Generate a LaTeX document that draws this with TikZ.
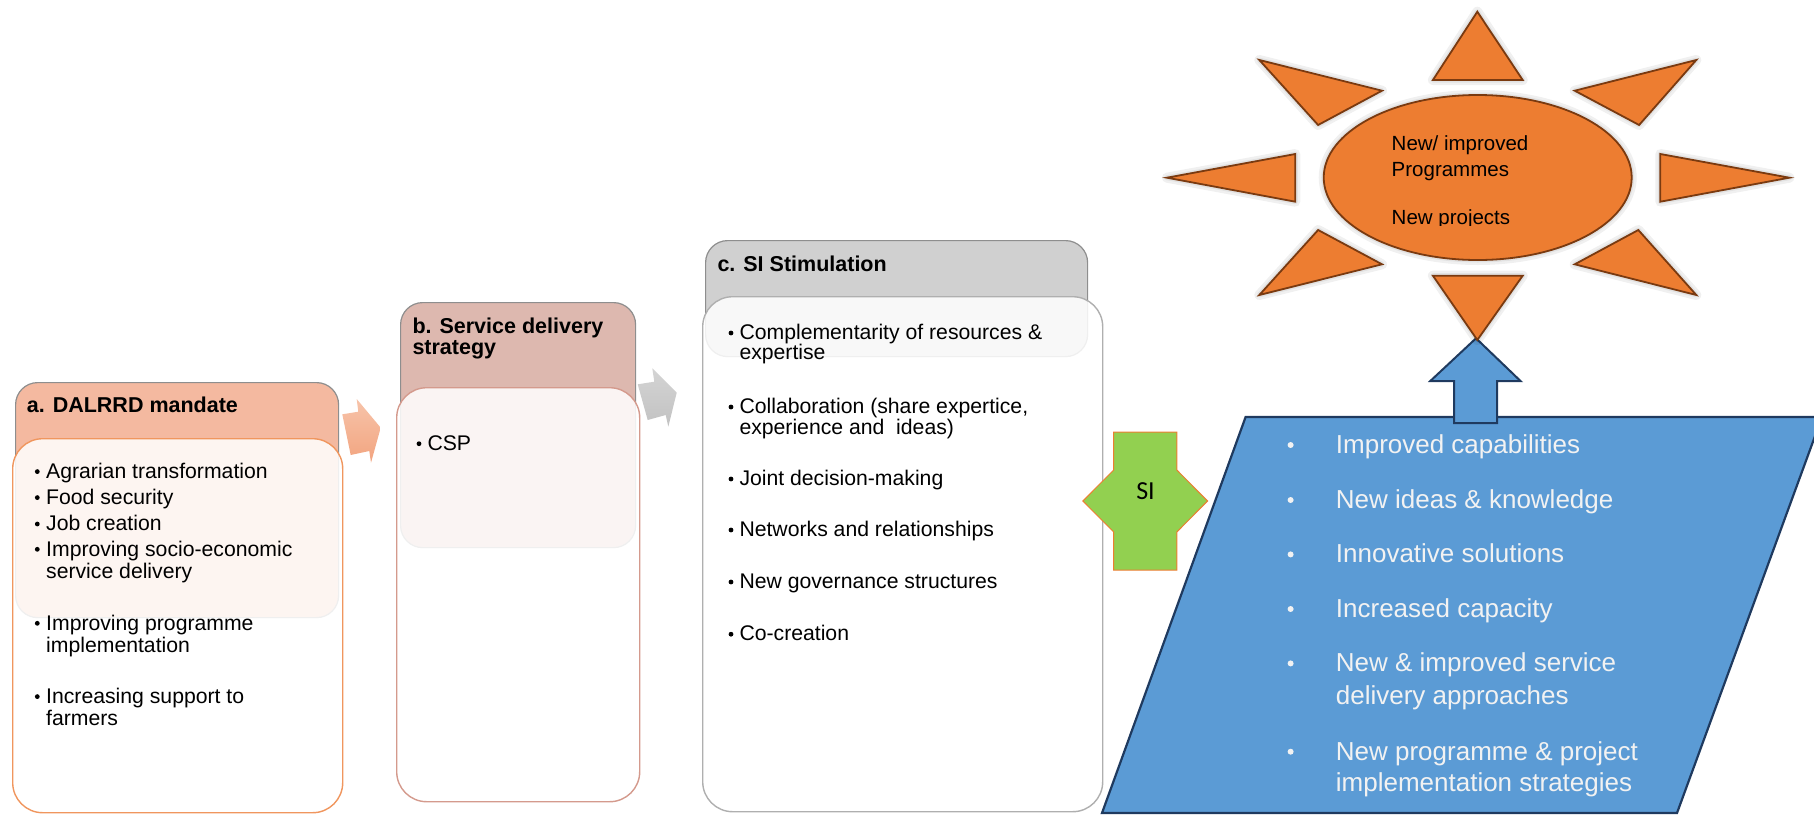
\documentclass[tikz,border=0pt]{standalone}
\usepackage{fontspec}
\setmainfont{Liberation Sans}
\newfontfamily\calibri{Carlito}
\usetikzlibrary{shapes.geometric}

\definecolor{hdrA}{HTML}{F4B9A0}
\definecolor{lineA}{HTML}{F0965E}
\definecolor{hdrB}{HTML}{DDB8AF}
\definecolor{lineB}{HTML}{D49A8D}
\definecolor{hdrC}{HTML}{D0D0D0}
\definecolor{lineC}{HTML}{AFAFAF}
\definecolor{hdrline}{HTML}{8E8E8E}
\definecolor{arrAtop}{HTML}{F7C4AA}
\definecolor{arrAbot}{HTML}{F2A47F}
\definecolor{arrBtop}{HTML}{D4D4D4}
\definecolor{arrBbot}{HTML}{C2C2C2}
\definecolor{sunfill}{HTML}{ED7D31}
\definecolor{sunline}{HTML}{7A3A10}
\definecolor{bluefill}{HTML}{5B9BD5}
\definecolor{blueline}{HTML}{1F3A5F}
\definecolor{sifill}{HTML}{92D050}
\definecolor{siline}{HTML}{ED7D31}
\definecolor{paletext}{HTML}{F2F2F2}

% bullet dot: x, y, radius
\newcommand\bul[3]{\fill (#1,#2) circle[radius=#3];}
% one sun ray: soft halo, then the filled triangle
\newcommand\sunray[3]{%
  \draw[halo, line width=10pt] #1 -- #2 -- #3 -- cycle;
  \draw[halo, line width=5pt] #1 -- #2 -- #3 -- cycle;
  \filldraw[ray] #1 -- #2 -- #3 -- cycle;}

\begin{document}
\begin{tikzpicture}[x=1pt,y=-1pt,
  hdrbox/.style={draw=hdrline, line width=1.2pt, rounded corners=22pt, inner sep=0pt, anchor=north west},
  bodybox/.style={fill=white, fill opacity=0.86, line width=1.4pt, rounded corners=30pt, inner sep=0pt, anchor=north west},
  hdrtxt/.style={anchor=base west, inner sep=0pt, font=\fontsize{21.5}{22}\selectfont\bfseries},
  txt/.style={anchor=base west, inner sep=0pt, font=\fontsize{21.2}{22}\selectfont},
  bigtxt/.style={anchor=base west, inner sep=0pt, text=paletext, font=\fontsize{26}{27}\selectfont},
  suntxt/.style={anchor=base west, inner sep=0pt, font=\fontsize{20.5}{21}\selectfont},
  ray/.style={fill=sunfill, draw=sunline, line width=1.8pt, line join=miter},
  halo/.style={draw=black, draw opacity=0.06, line join=round},
  bluebody/.style={fill=bluefill, draw=blueline, line width=2.2pt, line join=miter}
]
\useasboundingbox (0,0) rectangle (1814,814);

% ---------- a. mandate ----------
\node[hdrbox, fill=hdrA, minimum width=323pt, minimum height=235pt] (ha) at (15,382) {};
\node[bodybox, draw=lineA, minimum width=330pt, minimum height=374pt] (ba) at (12,438) {};
\node[hdrtxt] (ta) at (26.7,412.3) {a. DALRRD mandate};
\bul{37.3}{471.6}{2.4}
\node[txt] (a1) at (46,478.3) {Agrarian transformation};
\bul{37.3}{497.6}{2.4}
\node[txt] (a2) at (46,504.3) {Food security};
\bul{37.3}{524}{2.4}
\node[txt] (a3) at (46,530.7) {Job creation};
\bul{37.3}{549.3}{2.4}
\node[txt] (a4) at (46,556) {Improving socio-economic};
\node[txt] (a4b) at (46,578.3) {service delivery};
\bul{37.3}{623.3}{2.4}
\node[txt] (a5) at (46,630) {Improving programme};
\node[txt] (a5b) at (46,652.7) {implementation};
\bul{37.3}{696.6}{2.4}
\node[txt] (a6) at (46,703.3) {Increasing support to};
\node[txt] (a6b) at (46,725) {farmers};

% ---------- b. strategy ----------
\node[hdrbox, fill=hdrB, minimum width=235pt, minimum height=245pt] (hb) at (400,302) {};
\node[bodybox, draw=lineB, minimum width=243pt, minimum height=414pt] (bb) at (396,387) {};
\node[hdrtxt] (tb) at (412.3,333.4) {b. Service delivery};
\node[hdrtxt] (tb2) at (412.3,354.5) {strategy};
\bul{419}{443.7}{2.4}
\node[txt] (b1) at (427.3,450.4) {CSP};

% ---------- c. stimulation ----------
\node[hdrbox, fill=hdrC, minimum width=382pt, minimum height=116pt] (hc) at (705,240) {};
\node[bodybox, draw=lineC, minimum width=400pt, minimum height=515pt] (bc) at (702,296) {};
\node[hdrtxt] (tc) at (717.3,271.1) {c. SI Stimulation};
\bul{731}{333}{2.4}
\node[txt] (c1) at (739.3,339.3) {Complementarity of resources \&};
\node[txt] (c1b) at (739.3,359.4) {expertise};
\bul{731}{407}{2.4}
\node[txt] (c2) at (739.3,413.2) {Collaboration (share expertice,};
\node[txt] (c2b) at (739.3,434) {experience and \ ideas)};
\bul{731}{479}{2.4}
\node[txt] (c3) at (739.3,485.2) {Joint decision-making};
\bul{731}{530}{2.4}
\node[txt] (c4) at (739.3,536.3) {Networks and relationships};
\bul{731}{582}{2.4}
\node[txt] (c5) at (739.3,588.2) {New governance structures};
\bul{731}{634.2}{2.4}
\node[txt] (c6) at (739.3,640.5) {Co-creation};

% ---------- block arrows between the stages ----------
\shade[top color=arrAtop, bottom color=arrAbot]
  (342.3,414.3) -- (358.3,411.7) -- (356.7,399) -- (380.7,427.7)
  -- (371,462.7) -- (369.3,451) -- (350.7,455) -- cycle;
\shade[top color=arrBtop, bottom color=arrBbot]
  (637.7,384.3) -- (654.3,381.7) -- (652.3,368.3) -- (676.7,392.7)
  -- (668.3,426.7) -- (665.7,415) -- (647.7,420) -- cycle;

% ---------- SI connector ----------
\filldraw[fill=sifill, draw=siline, line width=1pt]
  (1113.7,432) -- (1176.8,432) -- (1176.8,470) -- (1207.6,501) -- (1176.8,532)
  -- (1176.8,570) -- (1113.7,570) -- (1113.7,532) -- (1082.8,501) -- (1113.7,470) -- cycle;
\node[anchor=base, inner sep=0pt, font=\calibri\fontsize{26}{27}\selectfont] (si) at (1145.5,499.3) {SI};

% ---------- outcomes ----------
\filldraw[bluebody] (1245.6,417) -- (1822,417) -- (1677,813) -- (1102,813) -- cycle;
\begin{scope}[color=paletext]
\bul{1290.6}{445}{3}
\bul{1290.6}{500}{3}
\bul{1290.6}{554.4}{3}
\bul{1290.6}{609}{3}
\bul{1290.6}{663.4}{3}
\bul{1290.6}{751.7}{3}
\end{scope}
\node[bigtxt] (o1) at (1335.7,453.3) {Improved capabilities};
\node[bigtxt] (o2) at (1335.7,508.3) {New ideas \& knowledge};
\node[bigtxt] (o3) at (1335.7,562.7) {Innovative solutions};
\node[bigtxt] (o4) at (1335.7,617.3) {Increased capacity};
\node[bigtxt] (o5) at (1335.7,671.7) {New \& improved service};
\node[bigtxt] (o5b) at (1335.7,704) {delivery approaches};
\node[bigtxt] (o6) at (1335.7,760) {New programme \& project};
\node[bigtxt] (o6b) at (1335.7,791.7) {implementation strategies};

% ---------- upward arrow ----------
\filldraw[bluebody, line width=2pt]
  (1454,423) -- (1454,381) -- (1430.3,381) -- (1476,338.3) -- (1520.5,381)
  -- (1497.2,381) -- (1497.2,423) -- cycle;

% ---------- sun ----------
\draw[halo, line width=10pt] (1477.7,177.5) ellipse[x radius=154, y radius=82.5];
\draw[halo, line width=5pt] (1477.7,177.5) ellipse[x radius=154, y radius=82.5];
\node[ellipse, fill=sunfill, draw=sunline, line width=1.8pt, inner sep=0pt,
      minimum width=308pt, minimum height=165pt] (sun) at (1477.7,177.5) {};
\sunray{(1477.3,11.7)}{(1522.7,80)}{(1432.9,80)}
\sunray{(1477.3,340)}{(1522.7,275.7)}{(1432.9,275.7)}
\sunray{(1166.9,177.7)}{(1295.3,154)}{(1295.3,201.7)}
\sunray{(1789.4,177.7)}{(1660.3,154)}{(1660.3,201.7)}
\sunray{(1259.3,60)}{(1382,90.7)}{(1318.1,125)}
\sunray{(1696.3,60)}{(1574.7,90.7)}{(1639.1,125)}
\sunray{(1318.1,230)}{(1382,264.3)}{(1259.3,295)}
\sunray{(1638.3,230)}{(1574.7,264.3)}{(1696.3,295)}
\begin{scope}
  \clip (1330,100) rectangle (1630,225.5);
  \node[suntxt] (s1) at (1391.5,150) {New/ improved};
  \node[suntxt] (s2) at (1391.5,176.7) {Programmes};
  \node[suntxt] (s3) at (1391.5,224.5) {New projects};
\end{scope}
\end{tikzpicture}
\end{document}
